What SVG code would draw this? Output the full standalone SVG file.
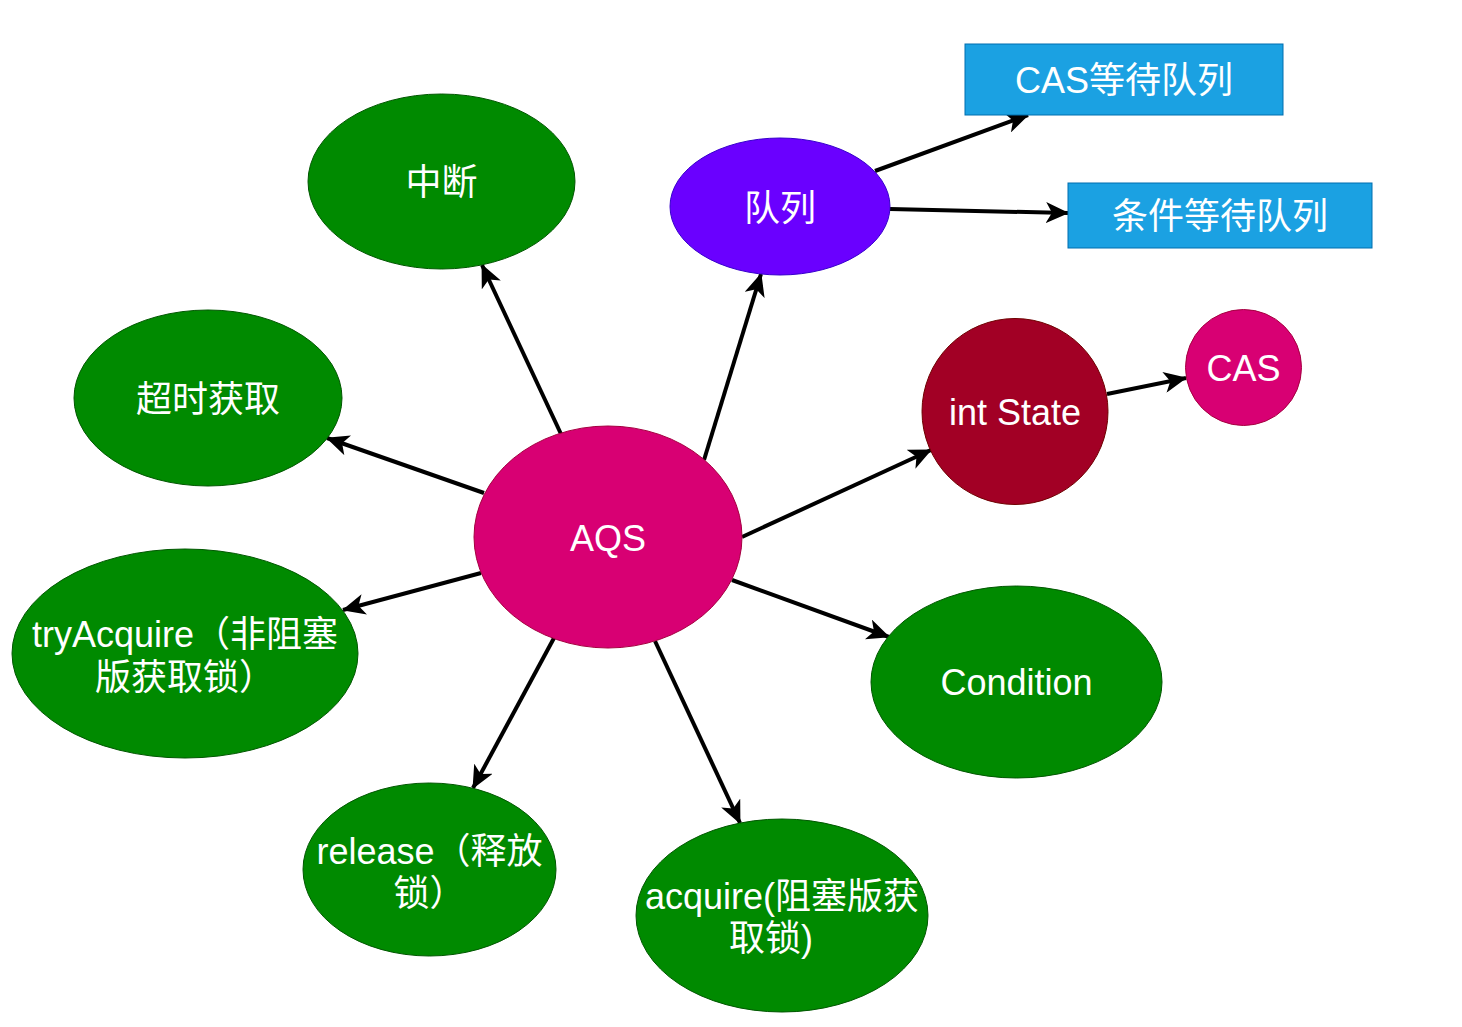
<svg xmlns="http://www.w3.org/2000/svg" width="1462" height="1027" viewBox="0 0 1462 1027">
<style>
text{font-family:"Liberation Sans","Noto Sans CJK SC",sans-serif;font-size:36px;fill:#ffffff;text-anchor:middle}
.green{fill:#008a00;stroke:#005700;stroke-width:1}
.mag{fill:#d80073;stroke:#a50040;stroke-width:1}
.purple{fill:#6a00ff;stroke:#3700cc;stroke-width:1}
.dred{fill:#a20025;stroke:#6f0000;stroke-width:1}
.blue{fill:#1ba1e2;stroke:#006eaf;stroke-width:1}
.edge{stroke:#000;stroke-width:4;fill:none;marker-end:url(#arr)}
</style>
<defs>
<marker id="arr" markerUnits="userSpaceOnUse" viewBox="0 0 23 21" markerWidth="23" markerHeight="21" refX="22" refY="10.5" orient="auto">
<path d="M0,0 L23,10.5 L0,21 L6,10.5 Z" fill="#000"/>
</marker>
</defs>
<rect width="1462" height="1027" fill="#ffffff"/>
<g id="edges">
<line class="edge" x1="561" y1="434" x2="482" y2="265"/>
<line class="edge" x1="704" y1="460" x2="761" y2="274"/>
<line class="edge" x1="484" y1="493" x2="327" y2="438"/>
<line class="edge" x1="742" y1="537" x2="931" y2="450"/>
<line class="edge" x1="481" y1="573" x2="343" y2="610"/>
<line class="edge" x1="732" y1="580" x2="889" y2="637"/>
<line class="edge" x1="554" y1="638" x2="473" y2="788"/>
<line class="edge" x1="655" y1="641" x2="740" y2="823"/>
<line class="edge" x1="875" y1="171" x2="1028" y2="115"/>
<line class="edge" x1="890" y1="209" x2="1068" y2="213"/>
<line class="edge" x1="1107" y1="394" x2="1186" y2="378"/>
</g>
<g id="aqs"><ellipse class="mag" cx="608" cy="537" rx="134" ry="111"/><text x="608" y="551">AQS</text></g>
<g id="zhongduan"><ellipse class="green" cx="441.5" cy="181.5" rx="133.5" ry="87.5"/><text x="441.5" y="195">中断</text></g>
<g id="duilie"><ellipse class="purple" cx="780" cy="206.5" rx="110" ry="68.5"/><text x="780" y="221">队列</text></g>
<g id="chaoshi"><ellipse class="green" cx="208" cy="398" rx="134" ry="88"/><text x="208" y="412">超时获取</text></g>
<g id="tryacquire"><ellipse class="green" cx="185" cy="653.5" rx="173" ry="104.5"/><text x="185" y="647">tryAcquire（非阻塞</text><text x="185" y="690">版获取锁）</text></g>
<g id="release"><ellipse class="green" cx="429.5" cy="869.5" rx="126.5" ry="86.5"/><text x="429.5" y="864">release（释放</text><text x="429.5" y="906">锁）</text></g>
<g id="acquire"><ellipse class="green" cx="782" cy="915.5" rx="146" ry="96.5"/><text x="782" y="909">acquire(阻塞版获</text><text x="771" y="951">取锁)</text></g>
<g id="condition"><ellipse class="green" cx="1016.5" cy="682" rx="145.5" ry="96"/><text x="1016.5" y="695">Condition</text></g>
<g id="intstate"><circle class="dred" cx="1015" cy="411.5" r="93"/><text x="1015" y="425">int State</text></g>
<g id="cas"><circle class="mag" cx="1243.5" cy="367.5" r="58"/><text x="1243.5" y="381">CAS</text></g>
<g id="caswait"><rect class="blue" x="965" y="44" width="318" height="71"/><text x="1124" y="93">CAS等待队列</text></g>
<g id="condwait"><rect class="blue" x="1068" y="183" width="304" height="65"/><text x="1220" y="229">条件等待队列</text></g>
</svg>
